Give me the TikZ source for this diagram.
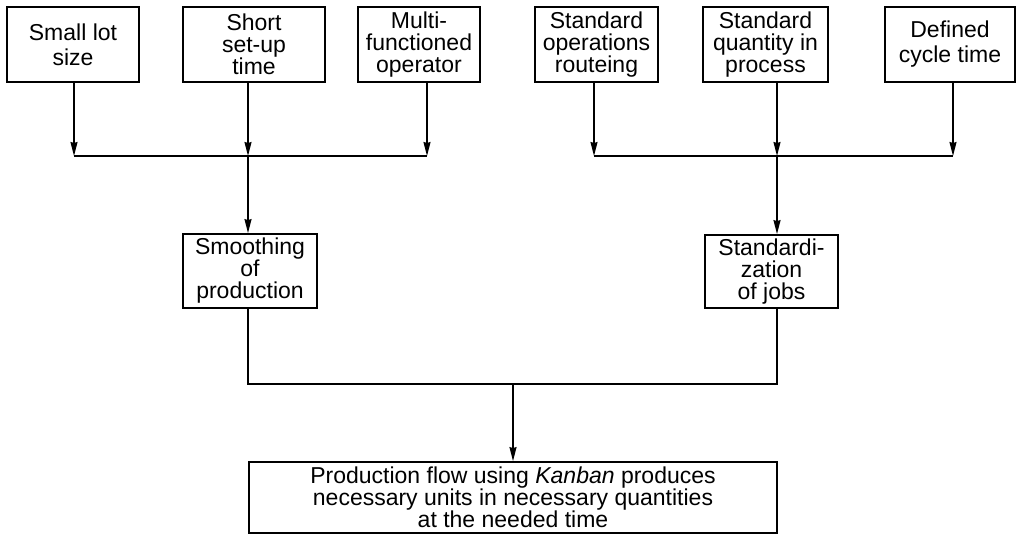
\documentclass[tikz,border=0pt]{standalone}
\usepackage{fontspec}
\setmainfont{Liberation Sans}
\usetikzlibrary{arrows.meta}
\begin{document}
\begin{tikzpicture}[x=1pt,y=1pt,
  box/.style={draw, line width=1.8pt, inner sep=0pt, align=center,
    font=\fontsize{23}{22}\selectfont},
  link/.style={line width=1.5pt},
  arr/.style={link, -{Stealth[length=14pt,width=7pt,inset=1pt]}}]
\useasboundingbox (0,0) rectangle (1017,-534);

% top row of causes
\node[box, minimum width=132pt, minimum height=75pt] (b1) at (73,-44.5) {Small lot\\[3pt]size};
\node[box, minimum width=142pt, minimum height=75pt] (b2) at (254,-44.5) {Short\\set-up\\time};
\node[box, minimum width=122pt, minimum height=75pt] (b3) at (419,-44.5) {Multi-\\functioned\\operator};
\node[box, minimum width=123pt, minimum height=75pt] (b4) at (596.5,-44.5) {Standard\\operations\\routeing};
\node[box, minimum width=125pt, minimum height=75pt] (b5) at (765.5,-44.5) {Standard\\quantity in\\process};
\node[box, minimum width=130pt, minimum height=75pt] (b6) at (950,-44.5) {Defined\\[3pt]cycle time};

% middle row
\node[box, minimum width=134pt, minimum height=74pt] (m1) at (250,-271) {Smoothing\\of\\production};
\node[box, minimum width=133pt, minimum height=73pt] (m2) at (771.5,-271.5) {Standardi-\\zation\\of jobs};

% result
\node[box, minimum width=528pt, minimum height=71pt] (r) at (513,-497.5)
  {Production flow using \textit{Kanban} produces\\necessary units in necessary quantities\\at the needed time};

% junction points on the collecting lines
\coordinate (j1) at (74,-156);
\coordinate (j2) at (248,-156);
\coordinate (j3) at (427,-156);
\coordinate (j4) at (594,-156);
\coordinate (j5) at (777,-156);
\coordinate (j6) at (953,-156);
\coordinate (k1) at (248,-384);
\coordinate (k2) at (777,-384);
\coordinate (k3) at (513,-384);

% left group
\draw[arr] (b1.south -| j1) -- (j1);
\draw[arr] (b2.south -| j2) -- (j2);
\draw[arr] (b3.south -| j3) -- (j3);
\draw[link] (j1) -- (j3);
\draw[arr] (j2) -- (m1.north -| j2);

% right group
\draw[arr] (b4.south -| j4) -- (j4);
\draw[arr] (b5.south -| j5) -- (j5);
\draw[arr] (b6.south -| j6) -- (j6);
\draw[link] (j4) -- (j6);
\draw[arr] (j5) -- (m2.north -| j5);

% merge into the result
\draw[link] (m1.south -| k1) -- (k1) -- (k2) -- (m2.south -| k2);
\draw[arr] (k3) -- (r.north -| k3);
\end{tikzpicture}
\end{document}
